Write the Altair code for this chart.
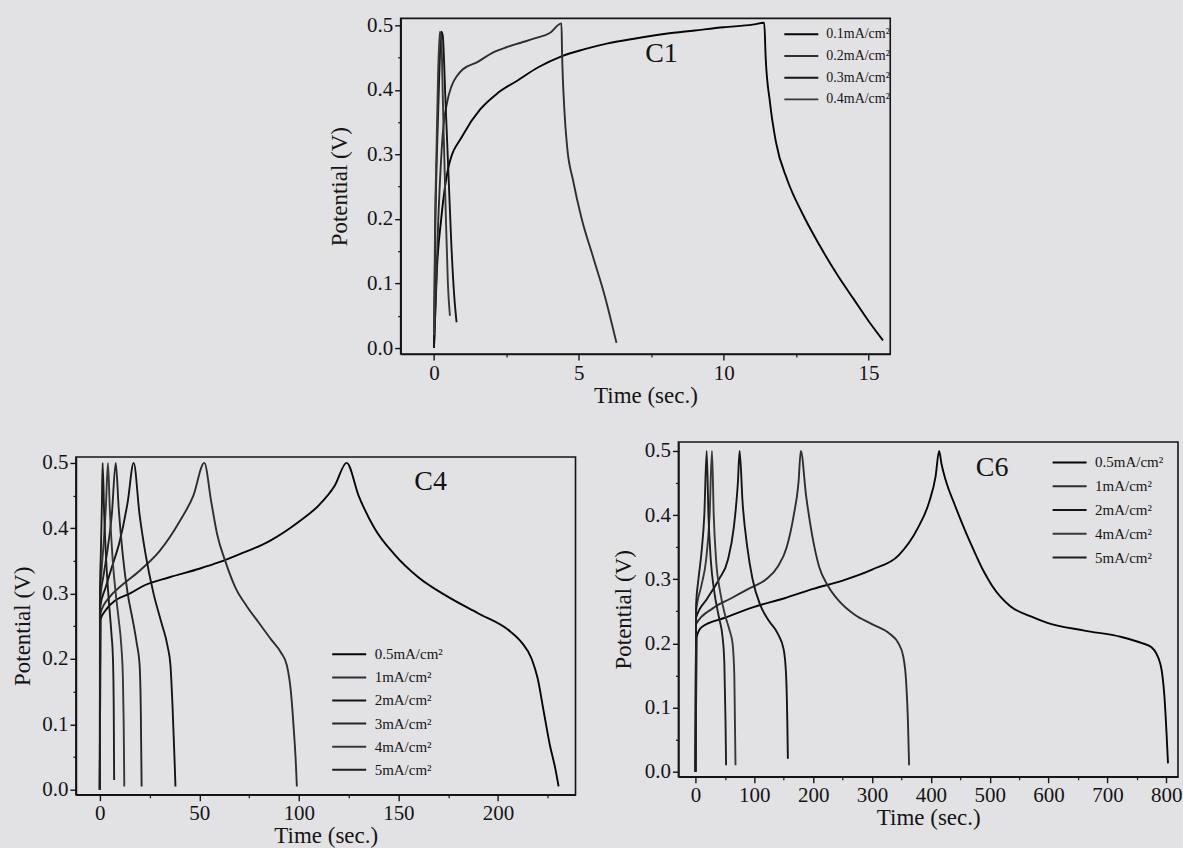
import altair as alt
import pandas as pd

FONT = "Liberation Serif"
INK = "#141414"
PAPER = "#e2e2e4"

# ---------------- C1 panel (current densities 0.1 - 0.4 mA/cm²) ----------------
C1_SERIES = ["0.1mA/cm²", "0.2mA/cm²", "0.3mA/cm²", "0.4mA/cm²"]
C1_COLORS = ["#050505", "#2e2e2e", "#141414", "#383838"]
C1_01_T = [0, 0.1, 0.25, 0.5, 1.0, 1.6, 2.2, 2.9, 3.6, 4.4, 5.2, 6.0, 7.0, 8.0, 9.0, 10.0, 11.0, 11.4,
           11.45, 11.6, 11.8, 12.2, 12.7, 13.3, 13.9, 14.5, 15.0, 15.5]
C1_01_V = [0.0, 0.12, 0.2, 0.28, 0.33, 0.37, 0.395, 0.415, 0.435, 0.452, 0.463, 0.472, 0.48, 0.487, 0.492, 0.497, 0.501, 0.504,
           0.45, 0.38, 0.32, 0.26, 0.21, 0.16, 0.115, 0.075, 0.042, 0.012]
C1_02_T = [0.0, 0.15, 0.3, 0.45, 0.6, 0.8, 1.0, 1.5, 2.0, 2.5, 3.0, 3.5, 4.0, 4.4,
           4.42, 4.5, 4.6, 4.8, 5.1, 5.5, 5.9, 6.3]
C1_02_V = [0.0, 0.2, 0.33, 0.38, 0.405, 0.422, 0.432, 0.443, 0.457, 0.466, 0.473, 0.48, 0.488, 0.503,
           0.46, 0.37, 0.31, 0.26, 0.2, 0.14, 0.08, 0.008]
C1_03_T = [0.0, 0.05, 0.1, 0.18, 0.25, 0.3, 0.4, 0.5, 0.6, 0.7, 0.78]
C1_03_V = [0.0, 0.2, 0.3, 0.42, 0.49, 0.485, 0.38, 0.27, 0.16, 0.08, 0.04]
C1_04_T = [0.0, 0.04, 0.08, 0.14, 0.2, 0.25, 0.32, 0.4, 0.48, 0.55]
C1_04_V = [0.02, 0.2, 0.29, 0.42, 0.49, 0.48, 0.36, 0.22, 0.1, 0.05]

# ---------------- C4 panel ----------------
C4_SERIES = ["0.5mA/cm²", "1mA/cm²", "2mA/cm²", "3mA/cm²", "4mA/cm²", "5mA/cm²"]
C4_COLORS = ["#050505", "#2e2e2e", "#141414", "#262626", "#383838", "#1e1e1e"]
C4_05_T = [0, 0.3, 3, 8, 15, 22, 35, 50, 60, 70, 85, 100, 110, 118, 124,
           130, 138, 148, 160, 175, 190, 205, 212, 217, 220, 223, 226, 229, 230.5]
C4_05_V = [0.0, 0.26, 0.275, 0.29, 0.30, 0.312, 0.325, 0.338, 0.348, 0.36, 0.38, 0.41, 0.435, 0.465, 0.5,
           0.45, 0.40, 0.36, 0.325, 0.295, 0.27, 0.245, 0.225, 0.2, 0.17, 0.12, 0.07, 0.03, 0.005]
C4_1_T = [0, 0.3, 5, 10, 20, 30, 40, 47, 52.5,
          56, 59, 63, 68, 74, 80, 86, 91, 94, 96, 97.5, 98.5, 99]
C4_1_V = [0.0, 0.27, 0.295, 0.31, 0.335, 0.365, 0.41, 0.45, 0.5,
          0.44, 0.39, 0.35, 0.31, 0.28, 0.255, 0.23, 0.21, 0.19, 0.15, 0.09, 0.04, 0.005]
C4_2_T = [0, 0.2, 3, 6, 10, 14, 17, 20, 23, 27, 31, 34, 35.5, 36.5, 37.5, 38]
C4_2_V = [0.0, 0.28, 0.31, 0.34, 0.38, 0.44, 0.5, 0.42, 0.36, 0.30, 0.255, 0.22, 0.19, 0.13, 0.05, 0.005]
C4_3_T = [0, 0.2, 2, 4, 6, 8, 9.5, 11.5, 14, 16.5, 18.5, 20, 20.6, 21]
C4_3_V = [0.0, 0.29, 0.33, 0.37, 0.42, 0.5, 0.43, 0.36, 0.3, 0.26, 0.225, 0.19, 0.12, 0.005]
C4_4_T = [0, 0.1, 1, 2, 3, 4.1, 5, 6.5, 8, 9.5, 10.8, 11.6, 12, 12.3]
C4_4_V = [0.0, 0.29, 0.34, 0.38, 0.43, 0.5, 0.43, 0.35, 0.3, 0.26, 0.22, 0.17, 0.1, 0.005]
C4_5_T = [0, 0.05, 0.5, 1.0, 1.4, 2.2, 3.2, 4.5, 5.8, 6.6, 7.0, 7.2]
C4_5_V = [0.0, 0.3, 0.36, 0.43, 0.5, 0.42, 0.35, 0.29, 0.24, 0.2, 0.12, 0.015]

# ---------------- C6 panel ----------------
C6_SERIES = ["0.5mA/cm²", "1mA/cm²", "2mA/cm²", "4mA/cm²", "5mA/cm²"]
C6_COLORS = ["#050505", "#2e2e2e", "#141414", "#383838", "#1e1e1e"]
C6_05_T = [0, 2, 10, 50, 100, 150, 200, 250, 300, 346, 378, 397, 408, 414,
           418, 425, 441, 460, 472, 490, 504, 535, 570, 598, 661, 724, 760, 775, 790, 797, 803]
C6_05_V = [0.0, 0.21, 0.225, 0.24, 0.257, 0.27, 0.285, 0.298, 0.315, 0.338, 0.38, 0.42, 0.46, 0.5,
           0.48, 0.455, 0.415, 0.372, 0.347, 0.312, 0.29, 0.258, 0.242, 0.232, 0.22, 0.21, 0.2, 0.194, 0.168, 0.116, 0.013]
C6_1_T = [0, 1, 30, 60, 90, 120, 140, 155, 167, 175, 179,
          188, 198, 210, 225, 245, 270, 300, 330, 345, 353, 358, 361, 363]
C6_1_V = [0.0, 0.23, 0.255, 0.27, 0.285, 0.3, 0.32, 0.35, 0.4, 0.45, 0.5,
          0.43, 0.37, 0.32, 0.29, 0.265, 0.245, 0.23, 0.215, 0.2, 0.18, 0.14, 0.08, 0.01]
C6_2_T = [0, 1, 20, 40, 55, 65, 72, 75, 80, 88, 97, 110, 125, 140, 150, 154, 156, 157]
C6_2_V = [0.0, 0.24, 0.27, 0.3, 0.33, 0.38, 0.45, 0.5, 0.42, 0.35, 0.3, 0.26, 0.235, 0.215, 0.19, 0.15, 0.08, 0.02]
C6_4_T = [0, 1, 10, 18, 24, 28, 31, 35, 42, 50, 58, 63, 66, 67, 68]
C6_4_V = [0.0, 0.25, 0.29, 0.33, 0.4, 0.5, 0.4, 0.33, 0.28, 0.245, 0.22, 0.2, 0.15, 0.08, 0.01]
C6_5_T = [0, 1, 5, 10, 15, 19, 22, 26, 32, 40, 46, 49, 51, 52]
C6_5_V = [0.0, 0.26, 0.3, 0.34, 0.4, 0.5, 0.4, 0.33, 0.28, 0.24, 0.21, 0.17, 0.08, 0.01]


def long_df(series, pairs):
    rows = []
    for name, (ts, vs) in zip(series, pairs):
        for i, (t, v) in enumerate(zip(ts, vs)):
            rows.append({"s": name, "t": t, "v": v, "i": i})
    return pd.DataFrame(rows)


def panel(df, series, colors, xdom, ydom, xmajor, xminor, ymajor, yminor, w, h,
          leg_x, leg_y, leg_font, leg_pad, label, label_x, label_y,
          xtitle_pad, ytitle_pad):
    xs = alt.Scale(domain=xdom, nice=False, zero=False)
    ys = alt.Scale(domain=ydom, nice=False, zero=False)
    common = dict(domainColor=INK, domainWidth=1.6, tickColor=INK, tickWidth=1.4, grid=False,
                  labelFont=FONT, labelColor=INK, labelFontSize=21, titleFont=FONT,
                  titleColor=INK, titleFontSize=23, titleFontWeight="normal",
                  tickSize=6, labelPadding=2, labelFlush=False, labelOverlap=False)
    xaxis = alt.Axis(values=xmajor, format="d", title="Time (sec.)", titlePadding=xtitle_pad, **common)
    yaxis = alt.Axis(values=ymajor, format=".1f", title="Potential (V)", titlePadding=ytitle_pad, **common)
    legend = alt.Legend(title=None, orient="none", legendX=leg_x, legendY=leg_y,
                        symbolType="M-16,0H1", symbolSize=16, symbolStrokeWidth=2,
                        labelFont=FONT, labelFontSize=leg_font, labelColor=INK,
                        rowPadding=leg_pad, padding=0, labelOffset=3, symbolOffset=0)
    lines = alt.Chart(df).mark_line(strokeWidth=1.9, clip=True, interpolate="monotone").encode(
        x=alt.X("t:Q", scale=xs, axis=xaxis),
        y=alt.Y("v:Q", scale=ys, axis=yaxis),
        color=alt.Color("s:N", scale=alt.Scale(domain=series, range=colors), legend=legend),
        order="i:Q",
    )
    minor_ax = dict(labels=False, title=None, domain=False, grid=False,
                    tickColor=INK, tickWidth=1.2, tickSize=3)
    minor = alt.Chart(df).mark_point(opacity=0).encode(
        x=alt.X("t:Q", scale=xs, axis=alt.Axis(values=xminor, orient="bottom", **minor_ax)),
        y=alt.Y("v:Q", scale=ys, axis=alt.Axis(values=yminor, orient="left", **minor_ax)),
    )
    tag = alt.Chart(pd.DataFrame({"txt": [label]})).mark_text(
        font=FONT, fontSize=28, color=INK, align="center", baseline="middle"
    ).encode(text="txt:N", x=alt.value(label_x), y=alt.value(label_y))
    return alt.layer(lines, minor, tag).resolve_axis(x="independent", y="independent").properties(
        width=w, height=h)


c1_df = long_df(C1_SERIES, [(C1_01_T, C1_01_V), (C1_02_T, C1_02_V), (C1_03_T, C1_03_V), (C1_04_T, C1_04_V)])
c4_df = long_df(C4_SERIES, [(C4_05_T, C4_05_V), (C4_1_T, C4_1_V), (C4_2_T, C4_2_V),
                            (C4_3_T, C4_3_V), (C4_4_T, C4_4_V), (C4_5_T, C4_5_V)])
c6_df = long_df(C6_SERIES, [(C6_05_T, C6_05_V), (C6_1_T, C6_1_V), (C6_2_T, C6_2_V),
                            (C6_4_T, C6_4_V), (C6_5_T, C6_5_V)])

YMAJ = [0.0, 0.1, 0.2, 0.3, 0.4, 0.5]
YMIN = [0.05, 0.15, 0.25, 0.35, 0.45]

c1 = panel(c1_df, C1_SERIES, C1_COLORS, [-1.15, 15.75], [-0.0093, 0.5108],
           [0, 5, 10, 15], [2.5, 7.5, 12.5], YMAJ, YMIN, 490, 336,
           409, 9, 14, 7.7, "C1", 261, 36, 1, 15)
c4 = panel(c4_df, C4_SERIES, C4_COLORS, [-12, 239], [-0.0076, 0.509],
           [0, 50, 100, 150, 200], [25, 75, 125, 175, 225], YMAJ, YMIN, 500, 338,
           281, 190, 15, 7.1, "C4", 355, 25, 1, 7)
c6 = panel(c6_df, C6_SERIES, C6_COLORS, [-29, 820], [-0.0078, 0.514],
           [0, 100, 200, 300, 400, 500, 600, 700, 800], [50, 150, 250, 350, 450, 550, 650, 750],
           YMAJ, YMIN, 500, 335, 399, 13, 15, 7.8, "C6", 314, 26, 1, 9)


def spacer(w, h):
    return alt.Chart(pd.DataFrame({"a": [0]})).mark_point(opacity=0).encode(
        x=alt.X("a:Q", axis=None), y=alt.Y("a:Q", axis=None)
    ).properties(width=w, height=h, view=alt.ViewBackground(stroke="transparent"))


top = alt.hconcat(spacer(250, 10), c1, spacing=0).resolve_scale(color="independent")
c4_col = alt.vconcat(spacer(10, 5), c4, spacing=2).resolve_scale(color="independent")
bottom = alt.hconcat(c4_col, c6, spacing=34).resolve_scale(color="independent")
chart = alt.vconcat(top, bottom, spacing=31).resolve_scale(color="independent").properties(
    background=PAPER, padding={"left": 10, "top": 13, "right": 0, "bottom": 0}
).configure_view(stroke=INK, strokeWidth=1.6, fill=PAPER)

chart.save("out.html", embed_options={"renderer": "svg", "actions": False})
